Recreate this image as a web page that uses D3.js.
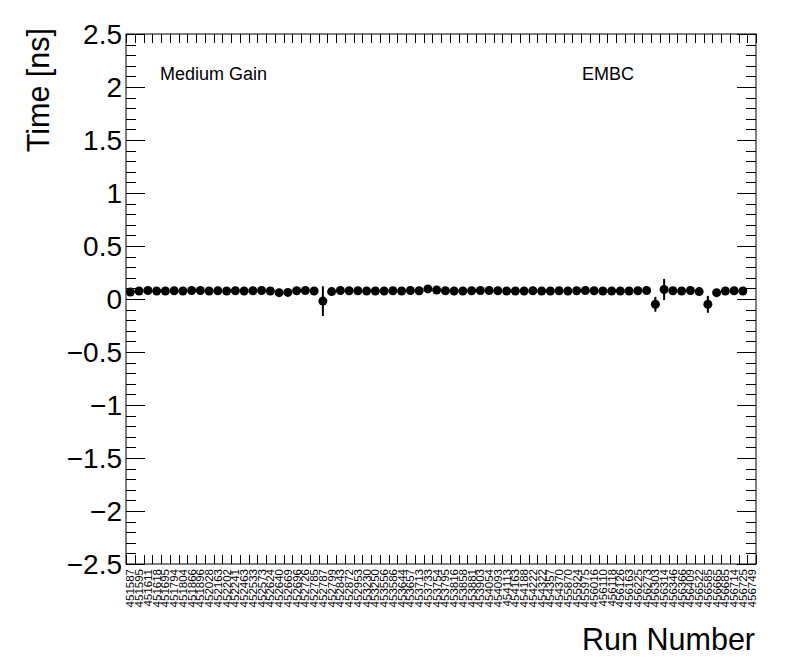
<!DOCTYPE html>
<html>
<head>
<meta charset="utf-8">
<script src="https://cdn.jsdelivr.net/npm/d3@7"></script>
<style>
  body { margin: 0; background: #fff; }
  text { font-family: "Liberation Sans", Arial, sans-serif; fill: #000; }
</style>
</head>
<body>
<div id="chart"></div>
<script>
// run numbers (bin labels)
const runs = [
  "451587","451595","451611","451618","451695","451794","451804","451866","451896","452028",
  "452163","452202","452241","452463","452533","452573","452624","452640","452669","452696",
  "452726","452785","452787","452799","452843","452872","452953","453230","453250","453556",
  "453586","453644","453657","453713","453733","453754","453795","453816","453858","453881",
  "453903","454054","454093","454113","454163","454188","454222","454322","454357","454370",
  "455870","455924","455975","456016","456110","456118","456126","456163","456225","456273",
  "456303","456314","456346","456366","456409","456522","456585","456665","456685","456714",
  "456725","456749"
];

// mean time per run [ns] (null = no entry)
const times = [
  0.065,0.075,0.080,0.075,0.075,0.078,0.075,0.080,0.080,0.075,
  0.078,0.075,0.078,0.075,0.078,0.080,0.075,0.060,0.062,0.078,
  0.080,0.075,-0.020,0.070,0.080,0.078,0.078,0.075,0.075,0.075,
  0.078,0.075,0.080,0.078,0.095,0.085,0.078,0.075,0.075,0.078,
  0.080,0.080,0.078,0.075,0.075,0.075,0.078,0.075,0.075,0.078,
  0.075,0.078,0.080,0.078,0.075,0.075,0.075,0.075,0.078,0.080,
  -0.050,0.090,0.078,0.075,0.080,0.070,-0.050,0.060,0.075,0.078,
  0.075,null
];

// error on each point [ns]
const errors = [
  0.01,0.01,0.01,0.01,0.01,0.01,0.01,0.01,0.01,0.01,
  0.01,0.01,0.01,0.01,0.01,0.01,0.01,0.01,0.01,0.01,
  0.01,0.01,0.14,0.01,0.01,0.01,0.01,0.01,0.01,0.01,
  0.01,0.01,0.01,0.01,0.01,0.01,0.01,0.01,0.01,0.01,
  0.01,0.01,0.01,0.01,0.01,0.01,0.01,0.01,0.01,0.01,
  0.01,0.01,0.01,0.01,0.01,0.01,0.01,0.01,0.01,0.01,
  0.07,0.10,0.01,0.01,0.01,0.01,0.08,0.01,0.01,0.01,
  0.01,0
];

const yMajor = [-2.5,-2,-1.5,-1,-0.5,0,0.5,1,1.5,2,2.5];

const width = 796, height = 672;
const margin = {left:126, right:40, top:34, bottom:108};
const fw = width - margin.left - margin.right;
const fh = height - margin.top - margin.bottom;

const svg = d3.select("#chart").append("svg")
  .attr("width", width).attr("height", height);

const x = d3.scaleBand().domain(d3.range(runs.length))
  .range([margin.left, margin.left + fw]).padding(0);
const y = d3.scaleLinear().domain([-2.5, 2.5])
  .range([margin.top + fh, margin.top]);

const g = svg.append("g");
const x0 = margin.left, x1 = margin.left + fw;
const y0 = margin.top + fh, y1 = margin.top;

// frame
g.append("rect").attr("x", x0).attr("y", y1).attr("width", fw).attr("height", fh)
  .attr("fill", "none").attr("stroke", "#000").attr("stroke-width", 1);

// y ticks (major + minor), both sides
const bigTick = 19, smallTick = 10;
const yMinor = d3.range(-2.5, 2.5001, 0.1);
yMinor.forEach(v => {
  const isMajor = Math.abs(v * 2 - Math.round(v * 2)) < 1e-6;
  const len = isMajor ? bigTick : smallTick;
  const yy = Math.round(y(v)) + 0.5;
  g.append("line").attr("x1", x0).attr("x2", x0 + len).attr("y1", yy).attr("y2", yy).attr("stroke", "#000");
  g.append("line").attr("x1", x1).attr("x2", x1 - len).attr("y1", yy).attr("y2", yy).attr("stroke", "#000");
});

// y tick labels
const fmt = v => (v < 0 ? "\u2212" : "") + Math.abs(v);
g.selectAll(".ylab").data(yMajor).enter().append("text")
  .attr("x", x0 - 4).attr("y", d => y(d) + 10)
  .attr("text-anchor", "end").attr("font-size", 28)
  .text(fmt);

// x ticks at bin edges, top and bottom
const xTick = 9;
d3.range(runs.length + 1).forEach(i => {
  const xx = Math.round(x0 + i * x.bandwidth()) + 0.5;
  g.append("line").attr("x1", xx).attr("x2", xx).attr("y1", y0).attr("y2", y0 - xTick).attr("stroke", "#000");
  g.append("line").attr("x1", xx).attr("x2", xx).attr("y1", y1).attr("y2", y1 + xTick).attr("stroke", "#000");
});

// x labels, vertical
g.selectAll(".xlab").data(runs).enter().append("text")
  .attr("transform", (d, i) => `translate(${x(i) + x.bandwidth() / 2 + 4},${y0 + 5}) rotate(-90)`)
  .attr("text-anchor", "end").attr("font-size", 11.5)
  .text(d => d);

// points with error bars
const pts = runs.map((r, i) => ({i: i, v: times[i], e: errors[i]})).filter(d => d.v !== null);
g.selectAll(".err").data(pts).enter().append("line")
  .attr("x1", d => x(d.i) + x.bandwidth() / 2).attr("x2", d => x(d.i) + x.bandwidth() / 2)
  .attr("y1", d => y(d.v - d.e)).attr("y2", d => y(d.v + d.e))
  .attr("stroke", "#000").attr("stroke-width", 2);
g.selectAll(".pt").data(pts).enter().append("circle")
  .attr("cx", d => x(d.i) + x.bandwidth() / 2).attr("cy", d => y(d.v))
  .attr("r", 4.5).attr("fill", "#000");

// titles
svg.append("text").attr("transform", `translate(49,${y1 - 6}) rotate(-90)`)
  .attr("text-anchor", "end").attr("font-size", 30.5).text("Time [ns]");
svg.append("text").attr("x", x1 - 1).attr("y", 650)
  .attr("text-anchor", "end").attr("font-size", 30.5).text("Run Number");
svg.append("text").attr("x", 160).attr("y", 80).attr("font-size", 18).text("Medium Gain");
svg.append("text").attr("x", 582).attr("y", 80).attr("font-size", 18).text("EMBC");
</script>
</body>
</html>
